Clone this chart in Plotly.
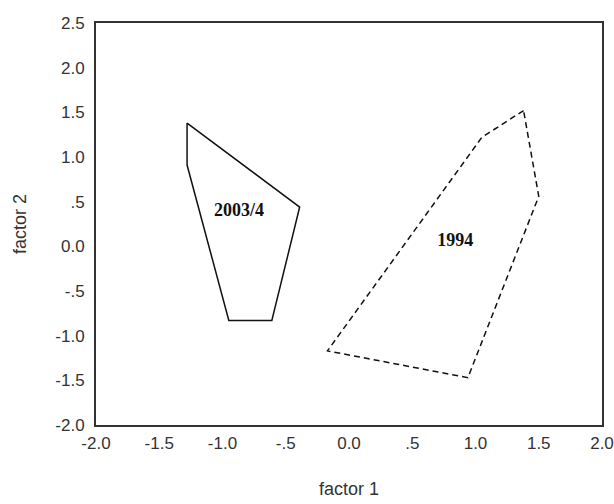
import plotly.graph_objects as go

# Polygon outlines (factor 1, factor 2)
poly_2003_x = [-1.28, -1.28, -0.95, -0.61, -0.39, -1.28]
poly_2003_y = [1.38, 0.91, -0.83, -0.83, 0.44, 1.38]
poly_1994_x = [1.38, 1.05, -0.17, 0.94, 1.50, 1.38]
poly_1994_y = [1.52, 1.22, -1.17, -1.47, 0.56, 1.52]

labels = ["2003/4", "1994"]
label_x = [-0.87, 0.84]
label_y = [0.39, 0.05]

tick_vals = [-2.0, -1.5, -1.0, -0.5, 0.0, 0.5, 1.0, 1.5, 2.0, 2.5]
tick_text = ["-2.0", "-1.5", "-1.0", "-.5", "0.0", ".5", "1.0", "1.5", "2.0", "2.5"]

fig = go.Figure()
fig.add_trace(go.Scatter(x=poly_2003_x, y=poly_2003_y, mode="lines",
                         line=dict(color="#111", width=1.5), showlegend=False))
fig.add_trace(go.Scatter(x=poly_1994_x, y=poly_1994_y, mode="lines",
                         line=dict(color="#111", width=1.5, dash="6px,4px"), showlegend=False))
fig.add_trace(go.Scatter(x=label_x, y=label_y, mode="text", text=labels,
                         textfont=dict(family="Liberation Serif", size=18, color="#111"),
                         texttemplate="<b>%{text}</b>", showlegend=False))

axis_common = dict(showgrid=False, zeroline=False, showline=True, mirror=True,
                   linecolor="#333", linewidth=2, ticks="", automargin=False,
                   ticklabeloverflow="allow",
                   tickfont=dict(family="Liberation Sans", size=17, color="#333"))

fig.update_xaxes(range=[-2, 2], tickvals=tick_vals[:9], ticktext=tick_text[:9],
                 ticklabelstandoff=2,
                 title=dict(text="factor 1", standoff=30,
                            font=dict(family="Liberation Sans", size=18, color="#333")),
                 **axis_common)
fig.update_yaxes(range=[-2, 2.5], tickvals=tick_vals, ticktext=tick_text,
                 ticklabelstandoff=6,
                 title=dict(text="factor 2", standoff=24,
                            font=dict(family="Liberation Sans", size=18, color="#333")),
                 **axis_common)

fig.update_layout(width=614, height=504, margin=dict(l=96, r=12, t=23, b=79),
                  plot_bgcolor="white", paper_bgcolor="white")

# remove the page's default body margin so the figure fills the 614x504 window
fig.write_html("out.html", config={"displayModeBar": False},
               post_script="document.body.style.margin='0px';document.body.style.overflow='hidden';")
